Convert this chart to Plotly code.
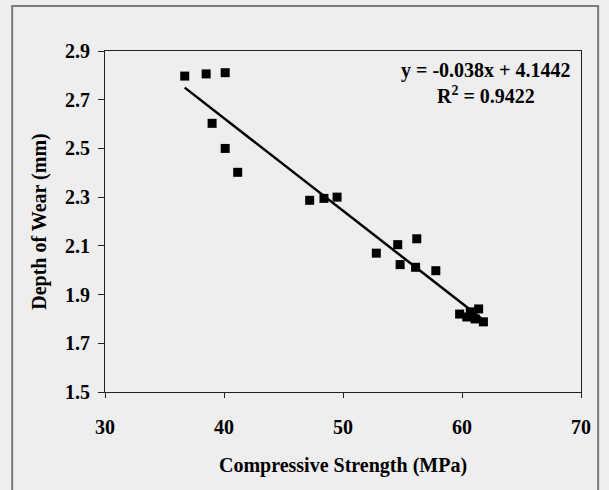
import plotly.graph_objects as go

# Data
strength = [36.7, 38.5, 40.1, 39.0, 40.1, 41.15,
            47.2, 48.4, 49.5,
            52.8, 54.6, 56.2, 54.8, 56.1, 57.8,
            59.8, 60.4, 60.7, 61.1, 61.4, 61.8]
wear = [2.797, 2.806, 2.811, 2.603, 2.50, 2.402,
        2.287, 2.295, 2.30,
        2.070, 2.105, 2.129, 2.023, 2.012, 1.998,
        1.820, 1.808, 1.829, 1.800, 1.841, 1.788]

slope = -0.038
intercept = 4.1442
r2 = 0.9422

x_ticks = [30, 40, 50, 60, 70]
y_ticks = [1.5, 1.7, 1.9, 2.1, 2.3, 2.5, 2.7, 2.9]

FONT = "Liberation Serif"
BG = "#eeeeee"

xmin, xmax = min(strength), max(strength)
trend_x = [xmin, xmax]
trend_y = [slope * v + intercept for v in trend_x]

fig = go.Figure()
fig.add_trace(go.Scatter(
    x=trend_x, y=trend_y, mode="lines",
    line=dict(color="black", width=2.5), showlegend=False, hoverinfo="skip"))
fig.add_trace(go.Scatter(
    x=strength, y=wear, mode="markers",
    marker=dict(symbol="square", size=9, color="black"),
    showlegend=False))

axis_font = dict(family=FONT, size=20, color="black", weight="bold")
title_font = dict(family=FONT, size=20, color="black", weight="bold")
fig.update_xaxes(
    range=[30, 70], tickvals=x_ticks, ticktext=[str(v) for v in x_ticks],
    showgrid=False, zeroline=False, showline=True, linecolor="#222",
    linewidth=1, mirror=True, ticks="outside", ticklen=5, tickcolor="#222",
    tickfont=axis_font, ticklabelstandoff=12,
    title=dict(text="Compressive Strength (MPa)", font=title_font, standoff=20))
fig.update_yaxes(
    range=[1.5, 2.9], tickvals=y_ticks, ticktext=[f"{v:.1f}" for v in y_ticks],
    showgrid=False, zeroline=False, showline=True, linecolor="#222",
    linewidth=1, mirror=True, ticks="outside", ticklen=6, tickcolor="#222",
    tickfont=axis_font, ticklabelstandoff=4,
    title=dict(text="Depth of Wear (mm)", font=title_font, standoff=13))

fig.update_layout(
    width=609, height=490,
    margin=dict(l=105, r=28, t=51, b=98, autoexpand=False),
    paper_bgcolor=BG, plot_bgcolor=BG,
    font=dict(family=FONT, color="black"),
    annotations=[
        dict(text=f"y = {slope}x + {intercept}", xref="paper", yref="paper",
             x=0.80, y=0.944, xanchor="center", yanchor="middle", showarrow=False,
             font=title_font),
        dict(text=f"R<sup>2</sup> = {r2}", xref="paper", yref="paper",
             x=0.80, y=0.872, xanchor="center", yanchor="middle", showarrow=False,
             font=title_font),
    ],
    shapes=[dict(type="rect", xref="paper", yref="paper",
                 x0=-0.195, x1=1.036, y0=-0.32, y1=1.132,
                 line=dict(color="#7a7a7a", width=2), layer="above")],
)

fig.write_html(
    "out.html",
    config={"displayModeBar": False},
    post_script="document.body.style.margin='0';document.body.style.background='#eeeeee';"
                "window.dispatchEvent(new Event('resize'));")
